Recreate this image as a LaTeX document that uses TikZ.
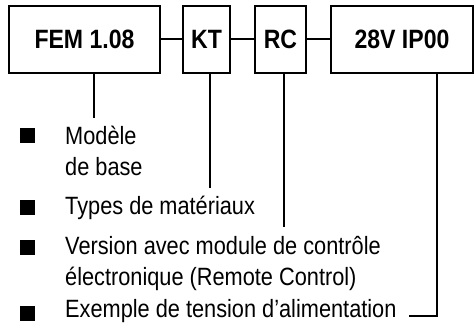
\documentclass[tikz,border=0pt]{standalone}
\usepackage{fontspec}
\setmainfont{Liberation Sans}[FakeStretch=0.87]
\usepackage{tikz}
\usetikzlibrary{positioning, calc}
\tikzset{
	code_box/.style={rectangle, draw=black, line width=2pt, minimum height=67pt, inner sep=0pt, font=\fontsize{26.5}{30}\selectfont\bfseries},
	bullet_mark/.style={rectangle, fill=black, minimum size=15pt, inner sep=0pt},
	item_text/.style={anchor=base west, inner sep=0pt, align=left, font=\fontsize{25}{31}\selectfont},
	lead/.style={draw=black, line width=2pt},
	link/.style={draw=black, line width=2pt}
}
\begin{document}
\begin{tikzpicture}[x=1pt, y=-1pt]
	\useasboundingbox (0,0) rectangle (475,328);
	\node[code_box, minimum width=151pt] (fem) at (84.5,39.5) {FEM 1.08};
	\node[code_box, minimum width=47pt] (kt) at (206.5,39.5) {KT};
	\node[code_box, minimum width=51pt] (rc) at (280.5,39.5) {RC};
	\node[code_box, minimum width=142pt] (volt) at (402,39.5) {28V IP00};
	\draw[link] (fem.east) -- (kt.west);
	\draw[link] (kt.east) -- (rc.west);
	\draw[link] (rc.east) -- (volt.west);
	\node[bullet_mark] (b1) at (27.5,135.5) {};
	\node[bullet_mark] (b2) at (27.5,207.5) {};
	\node[bullet_mark] (b3) at (27.5,247.5) {};
	\node[bullet_mark] (b4) at (27.5,313.5) {};
	\node[item_text] (t1) at (65,176) {Modèle\\de base};
	\node[item_text] (t2) at (65,215) {Types de matériaux};
	\node[item_text] (t3) at (65,286) {Version avec module de contrôle\\électronique (Remote Control)};
	\node[item_text] (t4) at (65,318) {Exemple de tension d’alimentation};
	\coordinate (e1) at (94,118);
	\coordinate (e2) at (210,188);
	\coordinate (e3) at (284,227);
	\coordinate (e4) at (437,316);
	\coordinate (e5) at (409,316);
	\draw[lead] (fem.south -| e1) -- (e1);
	\draw[lead] (kt.south -| e2) -- (e2);
	\draw[lead] (rc.south -| e3) -- (e3);
	\draw[lead] (volt.south -| e4) -- (e4) -- (e5);
\end{tikzpicture}
\end{document}
